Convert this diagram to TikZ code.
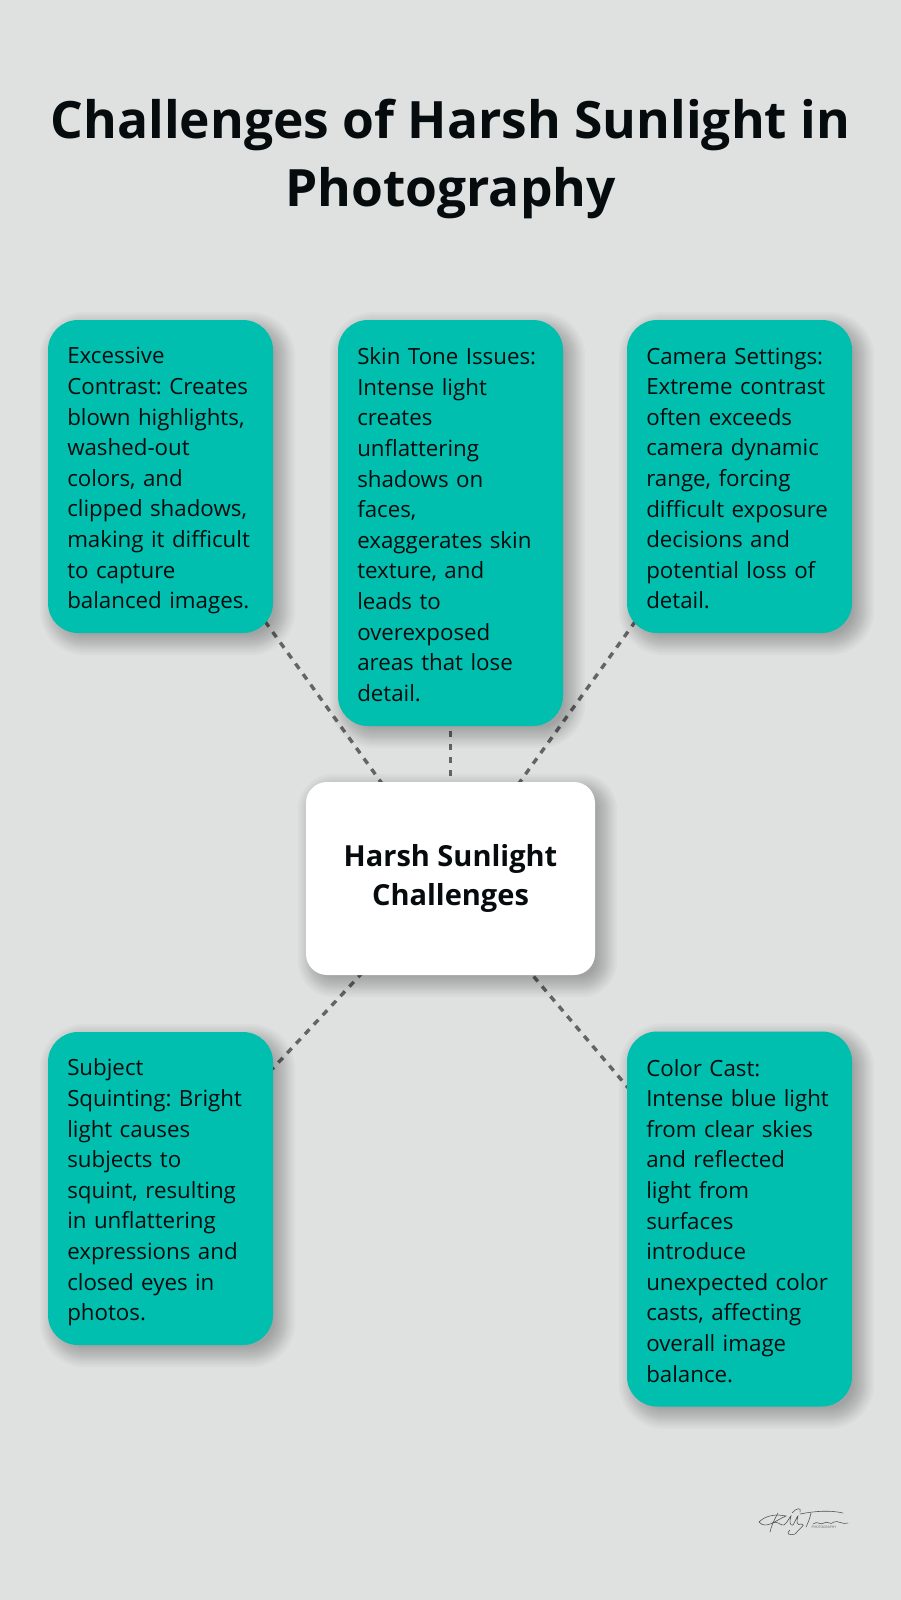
\documentclass[tikz,border=0pt]{standalone}
\usepackage{fontspec}
\usepackage{tikz}
\usetikzlibrary{backgrounds,calc}
\setmainfont{Open Sans}
\frenchspacing
\pgfdeclarelayer{shadowlayer}
\pgfsetlayers{background,shadowlayer,main}
\definecolor{pagegray}{RGB}{223,225,224}
\definecolor{tealbox}{RGB}{0,191,174}
\definecolor{inkdark}{RGB}{6,12,14}
\definecolor{linkgray}{RGB}{100,100,100}
\tikzset{
  tealcard/.style={rectangle, rounded corners=30pt, fill=tealbox, text=inkdark,
      minimum width=225pt, text width=186.5pt, inner xsep=19.25pt, inner ysep=0pt, align=left,
      font=\fontsize{22.3}{30.6}\selectfont,
      execute at begin node={\rule{0pt}{25pt}}, execute at end node={\rule[-5pt]{0pt}{0pt}}},
  hubcard/.style={rectangle, rounded corners=21pt, fill=white, text=inkdark,
      minimum width=289pt, minimum height=193pt, align=center,
      font=\fontsize{29}{38.5}\selectfont\bfseries,
      execute at begin node={\rule{0pt}{28.5pt}}, execute at end node={\rule[-7pt]{0pt}{0pt}}},
  titletext/.style={align=center, text=inkdark, font=\fontsize{51.5}{68.5}\selectfont\bfseries},
  linkline/.style={draw=linkgray, line width=3.4pt, dash pattern=on 6.5pt off 6.5pt, dash phase=1.5pt},
  shadowring/.style={fill=black, opacity=0.025, transform canvas={xshift=7pt, yshift=-7pt}},
  signline/.style={draw=black!70, line width=0.55pt, line cap=round}
}
% #1 node, #2 corner radius
\newcommand{\softshadow}[2]{%
  \begin{pgfonlayer}{shadowlayer}
    \foreach \ringsize in {15,12.5,10.5,8.5,7,5.5,4,2,0,-2,-4,-6}
      \fill [shadowring, rounded corners=#2pt+\ringsize pt]
            ($(#1.north west)+(-\ringsize,-\ringsize)$) rectangle ($(#1.south east)+(\ringsize,\ringsize)$);
  \end{pgfonlayer}}
\begin{document}
\begin{tikzpicture}[x=1pt, y=-1pt]
        \useasboundingbox (0,0) rectangle (901,1600);

        \node [titletext] (title) at (450.5,159) {Challenges of Harsh Sunlight in\\Photography};

        \node [tealcard, minimum height=313pt] (excess) at (160.5,476.5)   %top left
              {Excessive\\Contrast: Creates\\blown highlights,\\washed-out\\colors, and\\clipped shadows,\\making it difficult\\to capture\\balanced images.};
        \node [tealcard, minimum height=406pt] (skintone) at (450.5,523)   %top middle
              {Skin Tone Issues:\\Intense light\\creates\\unflattering\\shadows on\\faces,\\exaggerates skin\\texture, and\\leads to\\overexposed\\areas that lose\\detail.};
        \node [tealcard, minimum height=313pt] (camera) at (739.5,476.5)   %top right
              {Camera Settings:\\Extreme contrast\\often exceeds\\camera dynamic\\range, forcing\\difficult exposure\\decisions and\\potential loss of\\detail.};
        \node [hubcard] (hub) at (450.5,878.5) {Harsh Sunlight\\Challenges};
        \node [tealcard, minimum height=313pt] (squint) at (160.5,1188.5)  %bottom left
              {Subject\\Squinting: Bright\\light causes\\subjects to\\squint, resulting\\in unflattering\\expressions and\\closed eyes in\\photos.};
        \node [tealcard, minimum height=375pt] (colorcast) at (739.5,1219) %bottom right
              {Color Cast:\\Intense blue light\\from clear skies\\and reflected\\light from\\surfaces\\introduce\\unexpected color\\casts, affecting\\overall image\\balance.};

        \softshadow{excess}{30}
        \softshadow{skintone}{30}
        \softshadow{camera}{30}
        \softshadow{hub}{21}
        \softshadow{squint}{30}
        \softshadow{colorcast}{30}

        \begin{pgfonlayer}{background}
          \fill [pagegray] (0,0) rectangle (901,1600);
          \draw [linkline] (hub.center) -- (excess.center);
          \draw [linkline] (hub.center) -- (skintone.center);
          \draw [linkline] (hub.center) -- (camera.center);
          \draw [linkline] (hub.center) -- (squint.center);
          \draw [linkline] (hub.center) -- (colorcast.center);
        \end{pgfonlayer}

        %signature
        \draw [signline] (759,1522) .. controls (766,1515) and (776,1514) .. (786,1516) .. controls (776,1520) and (766,1530) .. (759,1522);
        \draw [signline] (778,1513) .. controls (774,1520) and (771,1527) .. (770,1532);
        \draw [signline] (772,1523) .. controls (778,1520) and (780,1526) .. (784,1525) .. controls (788,1522) and (790,1516) .. (791,1516) .. controls (789,1522) and (790,1526) .. (793,1525);
        \draw [signline] (793,1525) .. controls (796,1520) and (797,1516) .. (798,1516) .. controls (796,1522) and (797,1526) .. (801,1524);
        \draw [signline] (801,1524) .. controls (804,1526) and (806,1522) .. (795,1534) .. controls (788,1536) and (786,1533) .. (790,1530);
        \draw [signline] (792,1513) .. controls (796,1508) and (802,1507) .. (800,1512);
        \draw [signline] (800,1514) .. controls (815,1511) and (830,1510) .. (843,1513);
        \draw [signline] (811,1513) .. controls (810,1518) and (808,1523) .. (806,1527);
        \draw [signline] (813,1524) .. controls (818,1520) and (820,1526) .. (824,1523) .. controls (828,1520) and (830,1526) .. (834,1522) .. controls (838,1520) and (842,1525) .. (848,1523);
        \node [inner sep=0pt, text=black!60, font=\fontsize{3.4}{4}\selectfont] (signtag) at (824,1527.5) {PHOTOGRAPHY};
\end{tikzpicture}
\end{document}
